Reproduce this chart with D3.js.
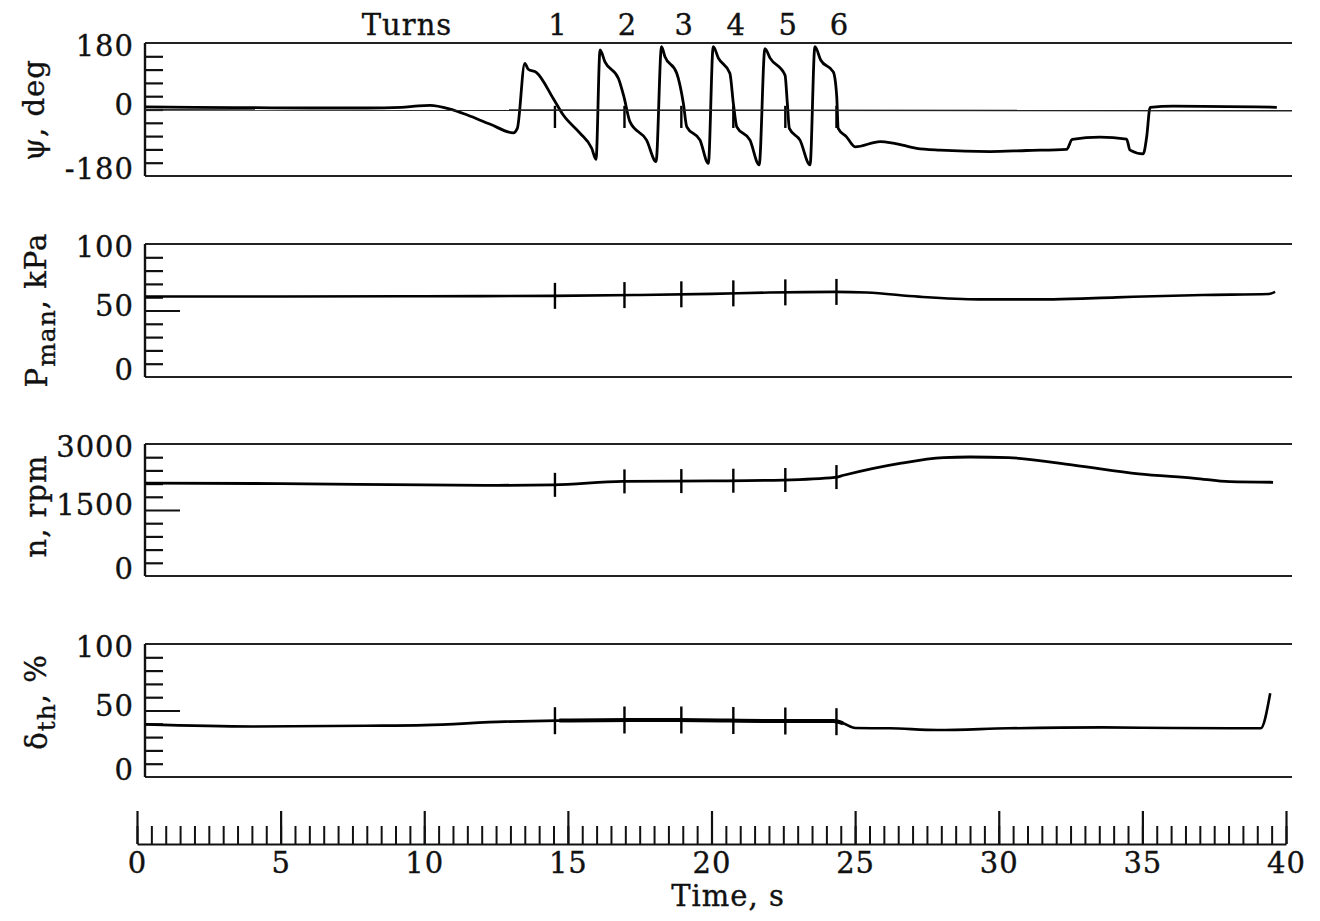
<!DOCTYPE html>
<html>
<head>
<meta charset="utf-8">
<script src="https://cdn.jsdelivr.net/npm/d3@7"></script>
<style>
  body { margin: 0; background: #fff; }
  svg { display: block; }
  text { font-family: "DejaVu Serif", "Liberation Serif", serif; fill: #111; stroke: #111; stroke-width: 0.35px; letter-spacing: 1px; }
</style>
</head>
<body>
<svg id="chart"></svg>
<script>
// time (s) / value pairs
const psiTime = [0.3, 2, 4, 6, 8, 9.2, 9.8, 10.2, 10.9, 11.5, 12.3, 13.1, 13.24, 13.5, 13.62, 13.91, 14.49, 14.84, 15.42, 15.83, 15.98,
  16.12, 16.29, 16.76, 16.95, 17.16, 17.74, 18.07, 18.26, 18.38, 18.79, 19.02, 19.14, 19.6, 19.89,
  20.06, 20.24, 20.64, 20.76, 20.88, 21.34, 21.66, 21.86, 22.04, 22.56, 22.64, 22.71, 23.08, 23.43,
  23.6, 23.8, 24.24, 24.36, 24.41, 24.7, 25.0, 25.87, 26.33, 27.14, 27.95, 29.7, 30.97, 32.36, 32.56,
  33.52, 34.45, 34.57, 35.03, 35.15, 35.27, 36.08, 39.68];
const psiDeg = [7, 6, 5, 4, 4, 6, 10, 11, 1, -15, -40, -63, -51, 125, 109, 100, 30, -15, -64, -105, -135,
  161, 129, 84, 35, -33, -83, -141, 170, 143, 98, 17, -47, -83, -146,
  170, 139, 98, 17, -47, -83, -150, 165, 139, 93, 17, -51, -83, -150,
  170, 134, 102, 35, -51, -74, -101, -87, -91, -105, -110, -114, -111, -108, -81,
  -75, -80, -110, -120, -74, 6, 9, 6];

const pmanTime = [0.3, 5, 10, 14.5, 17.5, 20, 22, 24.3, 25.4, 27.2, 29.3, 31.9, 34.1, 37.1, 39.4, 39.62];
const pmanKPa = [60.5, 60.5, 60.7, 61, 61.7, 62.5, 63.5, 64, 63.5, 60.4, 58.4, 58.4, 59.9, 61.7, 62.4, 64];

const rpmTime = [0.3, 5, 10, 12.5, 14.5, 16.9, 20, 22.5, 24.3, 24.6, 26.56, 28.08, 29, 30.34, 32.6, 34.87, 36.83, 38.04, 39.55];
const rpmVal = [2110, 2100, 2070, 2060, 2070, 2150, 2160, 2180, 2240, 2290, 2560, 2690, 2705, 2690, 2520, 2320, 2220, 2143, 2130];

const thrTime = [0.3, 4, 8, 10, 12.8, 14.7, 17.2, 18.8, 22.45, 24.25, 24.58, 25.0, 26.2, 27.87, 30.33, 33.62, 36.08, 38.05, 39.12, 39.45];
const thrPct = [39.6, 38, 38.5, 39, 41.6, 42.4, 42.9, 42.9, 42.1, 42.1, 40.4, 36.8, 36.6, 35.3, 36.6, 37.3, 36.8, 36.6, 36.6, 62.9];

const turnTimes = [14.55, 16.97, 18.95, 20.76, 22.57, 24.35];
const turnLabels = ['1', '2', '3', '4', '5', '6'];
const psiMark = [10, -50];
const noisyWindow = [14.0, 24.6];   // throttle trace is jittery through the turns

const timeMajor = [0, 5, 10, 15, 20, 25, 30, 35, 40];

const psiLabels = [180, 0, -180];
const pmanLabels = [100, 50, 0];
const rpmLabels = [3000, 1500, 0];
const thrLabels = [100, 50, 0];

const width = 1320, height = 921;
const left = 145, right = 1292;

const svg = d3.select('#chart').attr('width', width).attr('height', height);
svg.append('rect').attr('width', width).attr('height', height).attr('fill', '#fff');

const x = d3.scaleLinear().domain([0, 40]).range([137, 1286]);

const panels = [
  { top: 43, bottom: 176, domain: [-180, 180], labels: psiLabels, t: psiTime, v: psiDeg, longMid: false, sw: 2.8 },
  { top: 244, bottom: 377, domain: [0, 100], labels: pmanLabels, t: pmanTime, v: pmanKPa, longMid: true, sw: 2.6, mark: 13 },
  { top: 444, bottom: 576, domain: [0, 3000], labels: rpmLabels, t: rpmTime, v: rpmVal, longMid: true, sw: 2.8, mark: 12 },
  { top: 644, bottom: 777, domain: [0, 100], labels: thrLabels, t: thrTime, v: thrPct, longMid: true, sw: 2.6, mark: 13.5 }
];

panels.forEach((p, i) => {
  const y = d3.scaleLinear().domain(p.domain).range([p.bottom, p.top]);
  p.y = y;
  const g = svg.append('g');

  // frame: top / bottom rules and the left axis
  g.append('line').attr('x1', left).attr('x2', right).attr('y1', p.top).attr('y2', p.top)
    .attr('stroke', '#222').attr('stroke-width', 1.8);
  g.append('line').attr('x1', left).attr('x2', right).attr('y1', p.bottom).attr('y2', p.bottom)
    .attr('stroke', '#222').attr('stroke-width', 1.8);

  const step = (p.domain[1] - p.domain[0]) / 10;
  const inner = d3.range(1, 10).map(k => p.domain[0] + k * step);
  const mid = (p.domain[0] + p.domain[1]) / 2;

  const ax = g.append('g').attr('transform', 'translate(' + left + ',0)')
    .call(d3.axisRight(y).tickValues(inner).tickSize(18).tickFormat(''));
  ax.select('.domain').attr('d', 'M0,' + p.top + 'V' + p.bottom).attr('stroke', '#111').attr('stroke-width', 2.4);
  ax.selectAll('.tick line').attr('stroke', '#111').attr('stroke-width', 2.2)
    .attr('x2', d => (p.longMid && d === mid) ? 35 : 18);

  // tick labels
  const ly = [p.top + 3, y(mid) - 5, p.bottom - 7];
  p.labels.forEach((lab, k) => {
    g.append('text').attr('x', 134).attr('y', ly[k]).attr('dy', '0.36em')
      .attr('text-anchor', 'end').style('font-size', '29px').text(lab);
  });

  // trace
  const pts = p.t.map((t, k) => [t, p.v[k]]);
  const line = d3.line().x(d => x(d[0])).y(d => y(d[1])).curve(d3.curveMonotoneX);
  g.append('path').datum(pts)
    .attr('fill', 'none').attr('stroke', '#000').attr('stroke-width', p.sw)
    .attr('stroke-linejoin', 'round')
    .attr('d', line);

  if (i === 3) {
    g.append('path').datum(pts.filter(d => d[0] >= noisyWindow[0] && d[0] <= noisyWindow[1]))
      .attr('fill', 'none').attr('stroke', '#000').attr('stroke-width', 4)
      .attr('d', line);
  }

  // turn markers
  const interp = t => {
    const j = d3.bisectRight(p.t, t);
    const a = j - 1, b = Math.min(j, p.t.length - 1);
    const f = (t - p.t[a]) / ((p.t[b] - p.t[a]) || 1);
    return p.v[a] + f * (p.v[b] - p.v[a]);
  };
  g.selectAll('.mark').data(turnTimes).enter().append('line')
    .attr('x1', d => x(d)).attr('x2', d => x(d))
    .attr('y1', d => i === 0 ? y(psiMark[0]) : y(interp(d)) - p.mark)
    .attr('y2', d => i === 0 ? y(psiMark[1]) : y(interp(d)) + p.mark)
    .attr('stroke', '#000').attr('stroke-width', 2.4);
});

// zero reference line on the heading panel
svg.append('line').attr('x1', left).attr('x2', right)
  .attr('y1', panels[0].y(-1)).attr('y2', panels[0].y(-3))
  .attr('stroke', '#222').attr('stroke-width', 1.6);

// turn labels
svg.append('text').attr('x', 407).attr('y', 35).attr('text-anchor', 'middle')
  .style('font-size', '29px').text('Turns');
svg.selectAll('.turnlab').data(turnTimes).enter().append('text')
  .attr('x', d => x(d) + 3).attr('y', 35).attr('text-anchor', 'middle')
  .style('font-size', '29px').text((d, k) => turnLabels[k]);

// y titles
function yTitle(cx, cy, parts) {
  const t = svg.append('text').attr('transform', 'translate(' + cx + ',' + cy + ') rotate(-90)')
    .attr('text-anchor', 'middle').style('font-size', '29px');
  parts.forEach(pt => {
    const s = t.append('tspan').text(pt.s);
    if (pt.dy) s.attr('dy', pt.dy);
    if (pt.fs) s.style('font-size', pt.fs);
  });
}
yTitle(44, 110, [{ s: 'ψ, deg' }]);
yTitle(47, 310, [{ s: 'P' }, { s: 'man', dy: '0.3em', fs: '25px' }, { s: ', kPa', dy: '-0.3em' }]);
yTitle(46, 506, [{ s: 'n, rpm' }]);
yTitle(47, 702, [{ s: 'δ' }, { s: 'th', dy: '0.3em', fs: '25px' }, { s: ', %', dy: '-0.3em' }]);

// time axis
const base = 844;
const minor = svg.append('g').attr('transform', 'translate(0,' + base + ')')
  .call(d3.axisTop(x).tickValues(d3.range(0, 40.01, 0.5)).tickSize(18).tickFormat(''));
minor.select('.domain').remove();
minor.selectAll('.tick line').attr('stroke', '#111').attr('stroke-width', 2);

const major = svg.append('g').attr('transform', 'translate(0,' + base + ')')
  .call(d3.axisTop(x).tickValues(timeMajor).tickSize(33).tickSizeOuter(0).tickFormat(''));
major.select('.domain').attr('stroke', '#111').attr('stroke-width', 2.2);
major.selectAll('.tick line').attr('stroke', '#111').attr('stroke-width', 2.2);

const labs = svg.append('g').attr('transform', 'translate(0,' + base + ')')
  .call(d3.axisBottom(x).tickValues(timeMajor).tickSize(0).tickPadding(8));
labs.select('.domain').remove();
labs.selectAll('text').style('font-size', '29px').style('font-family', '"DejaVu Serif", serif').attr('fill', '#111');

svg.append('text').attr('x', 728).attr('y', 906).attr('text-anchor', 'middle')
  .style('font-size', '29px').text('Time, s');
</script>
</body>
</html>
